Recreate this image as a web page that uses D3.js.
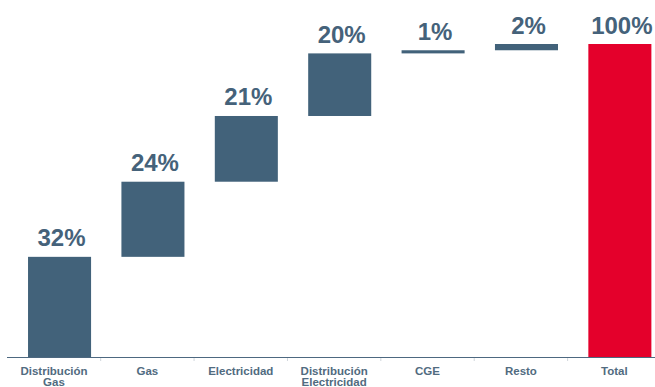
<!DOCTYPE html>
<html>
<head>
<meta charset="utf-8">
<script src="https://cdn.jsdelivr.net/npm/d3@7/dist/d3.min.js"></script>
<style>
  html, body { margin: 0; padding: 0; background: #ffffff; }
  svg { display: block; }
</style>
</head>
<body>
<svg id="chart" width="655" height="387"></svg>
<script>
// Contribution by business line (waterfall), last column is the total
const categories = ["Distribución Gas", "Gas", "Electricidad", "Distribución Electricidad", "CGE", "Resto", "Total"];
const categoryLines = [["Distribución", "Gas"], ["Gas"], ["Electricidad"], ["Distribución", "Electricidad"], ["CGE"], ["Resto"], ["Total"]];
const values = [32, 24, 21, 20, 1, 2, 100];
const isTotal = [false, false, false, false, false, false, true];

const width = 655, height = 387;
const svg = d3.select("#chart");

const x = d3.scaleBand().domain(categories).range([7.3, 661]).padding(0);
const y = d3.scaleLinear().domain([0, 100]).range([357, 44]);

// running start/end of each step
let acc = 0;
const steps = categories.map((c, i) => {
  if (isTotal[i]) return { c, v: values[i], start: 0, end: values[i], total: true };
  const s = { c, v: values[i], start: acc, end: acc + values[i], total: false };
  acc += values[i];
  return s;
});

const bw = x.bandwidth();
const barOffset = bw * 0.222;
const barWidth = bw * 0.675;

svg.append("g").selectAll("rect")
  .data(steps)
  .join("rect")
  .attr("x", d => x(d.c) + barOffset)
  .attr("width", barWidth)
  .attr("y", d => y(d.end))
  .attr("height", d => y(d.start) - y(d.end))
  .attr("fill", d => d.total ? "#e4002b" : "#42627a");

// value labels
svg.append("g").selectAll("text")
  .data(steps)
  .join("text")
  .attr("x", d => x(d.c) + barOffset + barWidth / 2 + 2)
  .attr("y", d => y(d.end) - 10.5)
  .attr("text-anchor", "middle")
  .attr("font-family", "Liberation Sans, Arial, sans-serif")
  .attr("font-weight", "bold")
  .attr("font-size", 24)
  .attr("fill", "#45627a")
  .text(d => d.v + "%");

// category axis
const axisY = 357.5;
svg.append("line")
  .attr("x1", 7).attr("x2", 655)
  .attr("y1", axisY).attr("y2", axisY)
  .attr("stroke", "#4d6880").attr("stroke-width", 1.2);

svg.append("g").selectAll("line")
  .data(categories.slice(1))
  .join("line")
  .attr("x1", d => x(d)).attr("x2", d => x(d))
  .attr("y1", axisY + 0.6).attr("y2", axisY + 3.5)
  .attr("stroke", "#d0d6dc").attr("stroke-width", 1);

const lbl = svg.append("g").selectAll("text")
  .data(categories)
  .join("text")
  .attr("x", d => x(d) + bw / 2)
  .attr("y", 374.5)
  .attr("text-anchor", "middle")
  .attr("font-family", "Liberation Sans, Arial, sans-serif")
  .attr("font-weight", "bold")
  .attr("font-size", 11.5)
  .attr("fill", "#516b80");

lbl.each(function(d, i) {
  const t = d3.select(this);
  categoryLines[i].forEach((line, j) => {
    t.append("tspan")
      .attr("x", x(d) + bw / 2)
      .attr("dy", j === 0 ? 0 : 11.6)
      .text(line);
  });
});
</script>
</body>
</html>
